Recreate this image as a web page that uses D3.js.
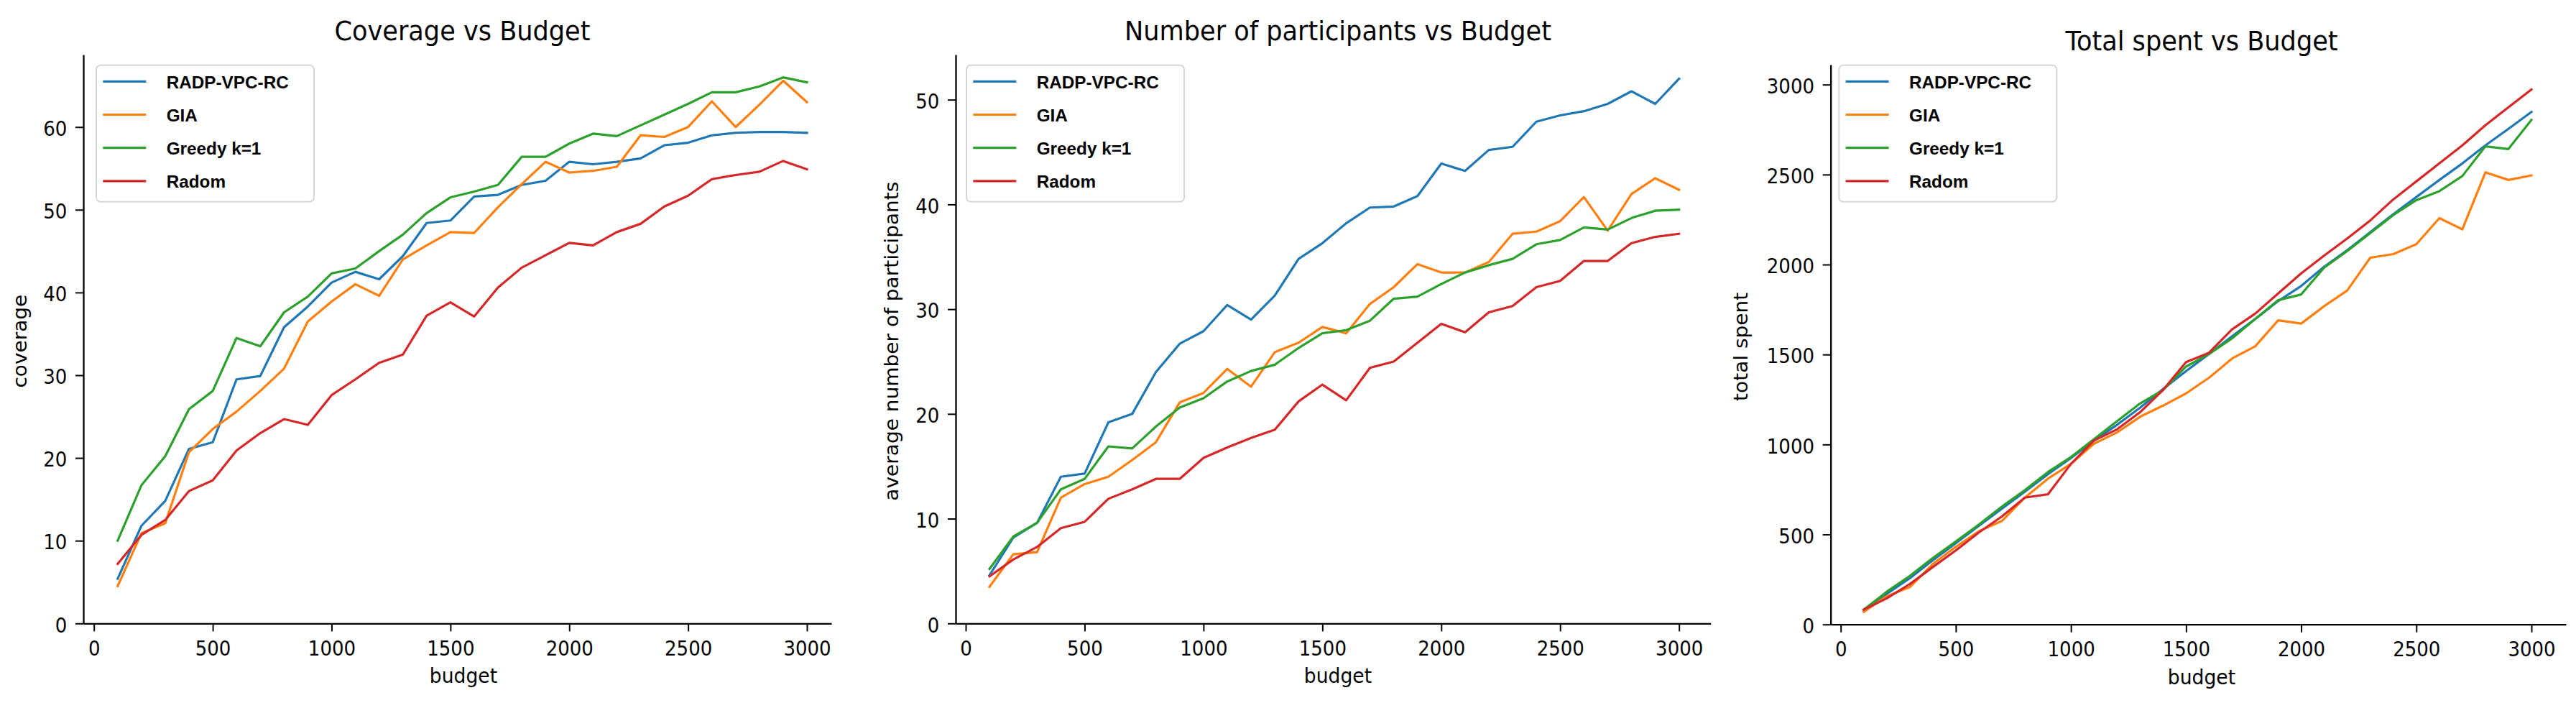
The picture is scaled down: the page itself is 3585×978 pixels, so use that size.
<!DOCTYPE html>
<html><head><meta charset="utf-8">
<script src="https://cdn.jsdelivr.net/npm/d3@7"></script>
<style>html,body{margin:0;padding:0;background:#fff;}svg{display:block;}</style>
</head><body>
<svg id="chart" width="3585" height="978"></svg>
<script>
const budgets = [100,200,300,400,500,600,700,800,900,1000,1100,1200,1300,1400,1500,1600,1700,1800,1900,2000,2100,2200,2300,2400,2500,2600,2700,2800,2900,3000];
const seriesNames = ["RADP-VPC-RC","GIA","Greedy k=1","Radom"];
const xTicks = [0,500,1000,1500,2000,2500,3000];

// Coverage
const covRADP   = [5.4,11.8,14.8,21.1,21.9,29.5,29.9,35.8,38.3,41.2,42.5,41.6,44.4,48.4,48.7,51.6,51.8,53.0,53.5,55.8,55.5,55.8,56.2,57.8,58.1,59.0,59.3,59.4,59.4,59.3];
const covGIA    = [4.5,10.9,12.1,20.7,23.5,25.6,28.1,30.8,36.5,38.9,41.0,39.6,44.0,45.7,47.3,47.2,50.3,53.1,55.8,54.5,54.7,55.2,59.0,58.8,60.0,63.1,60.0,62.7,65.6,63.0];
const covGreedy = [10.0,16.7,20.2,25.9,28.1,34.5,33.5,37.6,39.5,42.3,42.9,45.0,47.0,49.6,51.5,52.2,53.0,56.4,56.4,58.0,59.2,58.9,60.2,61.5,62.8,64.2,64.2,64.9,66.0,65.4];
const covRadom  = [7.2,10.7,12.5,16.0,17.3,20.9,23.0,24.7,24.0,27.6,29.5,31.5,32.5,37.2,38.8,37.1,40.6,43.0,44.5,46.0,45.7,47.3,48.3,50.4,51.7,53.7,54.2,54.6,55.9,54.9];
const covTicks = [0,10,20,30,40,50,60];

// Participants
const parRADP   = [4.6,8.2,9.6,14.0,14.3,19.2,20.0,24.0,26.7,27.9,30.4,29.0,31.3,34.8,36.3,38.2,39.7,39.8,40.8,43.9,43.2,45.2,45.5,47.9,48.5,48.9,49.6,50.8,49.6,52.0];
const parGIA    = [3.5,6.6,6.8,12.0,13.3,14.0,15.6,17.3,21.1,22.0,24.3,22.6,25.9,26.8,28.3,27.7,30.5,32.1,34.3,33.5,33.5,34.5,37.2,37.4,38.4,40.7,37.5,41.0,42.5,41.4];
const parGreedy = [5.2,8.3,9.6,12.8,13.8,16.9,16.7,18.8,20.6,21.5,23.1,24.1,24.7,26.3,27.7,28.0,28.9,31.0,31.2,32.4,33.5,34.2,34.8,36.2,36.6,37.8,37.6,38.7,39.4,39.5];
const parRadom  = [4.5,6.1,7.3,9.1,9.7,11.9,12.8,13.8,13.8,15.8,16.8,17.7,18.5,21.2,22.8,21.3,24.4,25.0,26.8,28.6,27.8,29.7,30.3,32.1,32.7,34.6,34.6,36.3,36.9,37.2];
const parTicks = [0,10,20,30,40,50];

// Total spent
const spRADP   = [82,170,257,356,451,548,643,738,835,925,1022,1109,1204,1308,1408,1503,1602,1697,1797,1881,1988,2080,2180,2280,2375,2470,2562,2662,2754,2848];
const spGIA    = [70,157,207,336,431,518,575,705,810,892,1004,1067,1154,1216,1284,1371,1478,1545,1690,1672,1769,1856,2038,2058,2113,2258,2196,2512,2470,2495];
const spGreedy = [82,182,269,369,461,555,655,747,847,930,1029,1129,1228,1303,1433,1503,1590,1697,1802,1834,1983,2075,2175,2275,2358,2408,2492,2657,2642,2804];
const spRadom  = [82,145,224,319,411,511,600,705,723,892,1022,1084,1179,1303,1458,1510,1640,1727,1839,1951,2050,2145,2245,2362,2462,2562,2662,2774,2874,2973];
const spTicks = [0,500,1000,1500,2000,2500,3000];

const colors = ["#1f77b4","#ff7f0e","#2ca02c","#d62728"];

const panels = [
  {title:"Coverage vs Budget", ylabel:"coverage", series:[covRADP,covGIA,covGreedy,covRadom], yTicks:covTicks,
   left:116, right:1157, top:76, bottom:867.3, xdom:[-44.4,3102.7], ydom:[0,68.75],
   titleX:643.5, xlabelX:645, ylabelX:37, legendX:134, legendY:90.7},
  {title:"Number of participants vs Budget", ylabel:"average number of participants", series:[parRADP,parGIA,parGreedy,parRadom], yTicks:parTicks,
   left:1330, right:2380.7, top:76, bottom:867.3, xdom:[-42.3,3133], ydom:[0,54.3],
   titleX:1862, xlabelX:1862, ylabelX:1250, legendX:1345, legendY:90.7},
  {title:"Total spent vs Budget", ylabel:"total spent", series:[spRADP,spGIA,spGreedy,spRadom], yTicks:spTicks,
   left:2547.7, right:3571, top:90, bottom:868.7, xdom:[-43.7,3149.8], ydom:[0,3110.6],
   titleX:3064, xlabelX:3064, ylabelX:2432, legendX:2559.3, legendY:90.7}
];

const svg = d3.select("#chart");
svg.append("rect").attr("width",3585).attr("height",978).attr("fill","#fff");

const tickFont = 28, tickScale = 0.93;

panels.forEach(p => {
  const x = d3.scaleLinear().domain(p.xdom).range([p.left, p.right]);
  const y = d3.scaleLinear().domain(p.ydom).range([p.bottom, p.top]);
  const g = svg.append("g");

  // lines
  const line = d3.line().x((d,i)=>x(budgets[i])).y(d=>y(d));
  p.series.forEach((s,i) => {
    g.append("path").datum(s).attr("d", line)
      .attr("fill","none").attr("stroke",colors[i]).attr("stroke-width",3.2)
      .attr("stroke-linejoin","round").attr("stroke-linecap","square");
  });

  // x axis
  const xa = g.append("g").attr("transform",`translate(0,${p.bottom})`)
    .call(d3.axisBottom(x).tickValues(xTicks).tickFormat(d3.format("d")).tickSize(11).tickSizeOuter(0).tickPadding(13.5));
  // y axis
  const ya = g.append("g").attr("transform",`translate(${p.left},0)`)
    .call(d3.axisLeft(y).tickValues(p.yTicks).tickFormat(d3.format("d")).tickSize(11).tickSizeOuter(0).tickPadding(11.7));
  [xa, ya].forEach(a => {
    a.select(".domain").attr("stroke","#000").attr("stroke-width",2.3);
    a.selectAll(".tick line").attr("stroke","#000").attr("stroke-width",2);
    a.selectAll(".tick text").attr("font-family","DejaVu Sans").attr("font-size",tickFont).attr("fill","#000");
  });
  ya.selectAll(".tick text").each(function(){
    const t = d3.select(this);
    t.attr("x", (+t.attr("x"))/tickScale).attr("dy","0.42em").attr("transform",`scale(${tickScale},1)`);
  });
  xa.selectAll(".tick text").attr("transform",`scale(${tickScale},1)`);

  // title
  g.append("text").attr("transform",`translate(${p.titleX},${p.top-20}) scale(0.96,1)`)
    .attr("text-anchor","middle").attr("font-family","DejaVu Sans").attr("font-size",36.6).attr("fill","#000").text(p.title);
  // x label
  g.append("text").attr("transform",`translate(${p.xlabelX},${p.bottom+83}) scale(0.95,1)`)
    .attr("text-anchor","middle").attr("font-family","DejaVu Sans").attr("font-size",28).attr("fill","#000").text("budget");
  // y label
  g.append("text").attr("transform",`translate(${p.ylabelX},${(p.top+p.bottom)/2+3}) rotate(-90) scale(1,0.95)`)
    .attr("text-anchor","middle").attr("font-family","DejaVu Sans").attr("font-size",28).attr("fill","#000").text(p.ylabel);

  // legend
  const lg = g.append("g").attr("transform",`translate(${p.legendX},${p.legendY})`);
  lg.append("rect").attr("x",0).attr("y",0).attr("width",303).attr("height",190).attr("rx",6)
    .attr("fill","#fff").attr("fill-opacity",0.8).attr("stroke","#d6d6d6").attr("stroke-width",2);
  seriesNames.forEach((name,i) => {
    const ly = 22.6 + i*46.2;
    lg.append("line").attr("x1",9.3).attr("x2",69.3).attr("y1",ly).attr("y2",ly)
      .attr("stroke",colors[i]).attr("stroke-width",3.2);
    lg.append("text").attr("x",97.7).attr("y",ly+9.4).attr("font-family","Liberation Sans").attr("font-weight","bold")
      .attr("font-size",24.3).attr("fill","#000").text(name);
  });
});
</script>
</body></html>
